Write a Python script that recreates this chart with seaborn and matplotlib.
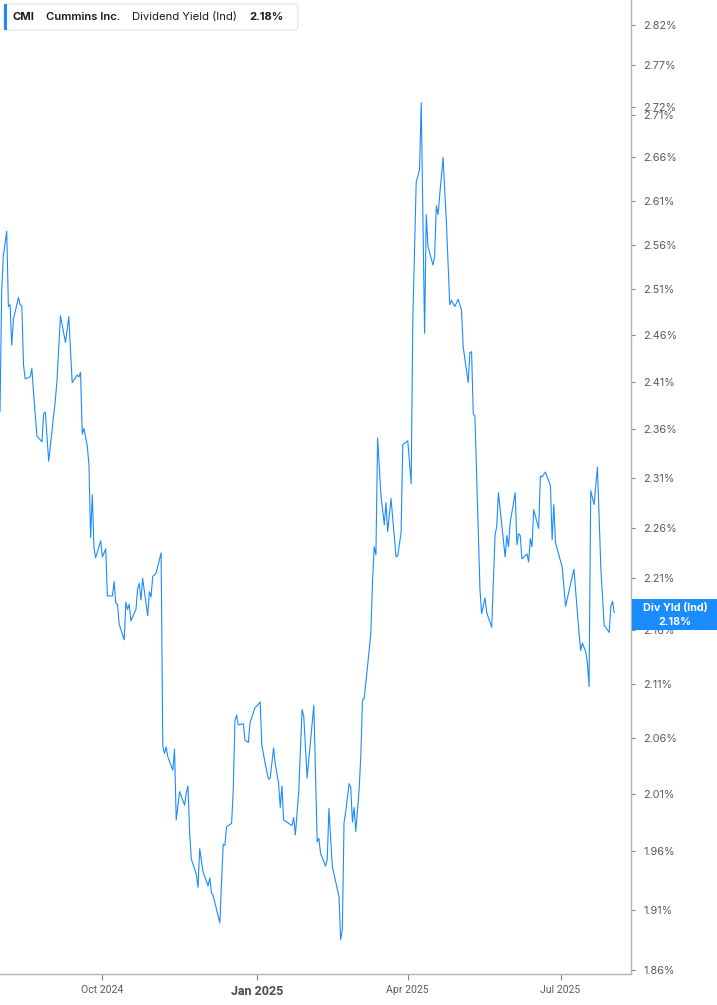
import matplotlib
matplotlib.use("Agg")
import matplotlib.pyplot as plt
import matplotlib.ticker as mticker
from matplotlib.patches import FancyBboxPatch, Rectangle
import pandas as pd
import seaborn as sns

# CMI dividend yield (indicated)
dates = [
    "2024-08-01", "2024-08-02", "2024-08-03", "2024-08-05", "2024-08-06", "2024-08-07",
    "2024-08-08", "2024-08-09", "2024-08-12", "2024-08-13", "2024-08-14", "2024-08-15",
    "2024-08-16", "2024-08-19", "2024-08-20", "2024-08-21", "2024-08-23", "2024-08-26",
    "2024-08-27", "2024-08-28", "2024-08-30",
    "2024-09-03", "2024-09-04", "2024-09-06", "2024-09-09", "2024-09-11", "2024-09-13",
    "2024-09-16", "2024-09-17", "2024-09-18", "2024-09-19", "2024-09-20", "2024-09-22",
    "2024-09-23", "2024-09-24", "2024-09-25", "2024-09-26", "2024-09-27", "2024-09-30",
    "2024-10-01", "2024-10-03", "2024-10-04", "2024-10-07", "2024-10-08", "2024-10-09",
    "2024-10-10", "2024-10-11", "2024-10-14", "2024-10-15", "2024-10-16", "2024-10-17",
    "2024-10-18", "2024-10-21", "2024-10-22", "2024-10-23", "2024-10-24", "2024-10-25",
    "2024-10-28", "2024-10-29", "2024-10-30", "2024-10-31",
    "2024-11-02", "2024-11-05", "2024-11-06", "2024-11-07", "2024-11-08", "2024-11-09",
    "2024-11-12", "2024-11-13", "2024-11-14", "2024-11-16", "2024-11-19", "2024-11-20",
    "2024-11-21", "2024-11-22", "2024-11-23", "2024-11-26", "2024-11-27", "2024-11-28",
    "2024-11-30",
    "2024-12-03", "2024-12-04", "2024-12-05", "2024-12-06", "2024-12-10", "2024-12-12",
    "2024-12-13", "2024-12-14", "2024-12-17", "2024-12-18", "2024-12-19", "2024-12-20",
    "2024-12-21", "2024-12-24", "2024-12-25", "2024-12-27", "2024-12-28", "2024-12-31",
    "2025-01-01", "2025-01-03", "2025-01-04", "2025-01-06", "2025-01-08", "2025-01-09",
    "2025-01-11", "2025-01-12", "2025-01-14", "2025-01-15", "2025-01-16", "2025-01-17",
    "2025-01-21", "2025-01-22", "2025-01-23", "2025-01-24", "2025-01-26", "2025-01-28",
    "2025-01-29", "2025-01-31",
    "2025-02-04", "2025-02-06", "2025-02-07", "2025-02-08", "2025-02-11", "2025-02-12",
    "2025-02-13", "2025-02-15", "2025-02-19", "2025-02-20", "2025-02-21", "2025-02-22",
    "2025-02-23", "2025-02-25", "2025-02-26", "2025-02-27", "2025-02-28",
    "2025-03-01", "2025-03-03", "2025-03-04", "2025-03-05", "2025-03-06", "2025-03-08",
    "2025-03-10", "2025-03-11", "2025-03-12", "2025-03-13", "2025-03-14", "2025-03-16",
    "2025-03-18", "2025-03-19", "2025-03-20", "2025-03-22", "2025-03-25", "2025-03-26",
    "2025-03-28", "2025-03-29",
    "2025-04-01", "2025-04-03", "2025-04-04", "2025-04-06", "2025-04-08", "2025-04-09",
    "2025-04-11", "2025-04-12", "2025-04-13", "2025-04-16", "2025-04-17", "2025-04-18",
    "2025-04-19", "2025-04-22", "2025-04-24", "2025-04-26", "2025-04-27", "2025-04-29",
    "2025-05-01", "2025-05-03", "2025-05-04", "2025-05-07", "2025-05-08", "2025-05-09",
    "2025-05-10", "2025-05-11", "2025-05-14", "2025-05-15", "2025-05-17", "2025-05-18",
    "2025-05-21", "2025-05-23", "2025-05-24", "2025-05-25", "2025-05-29", "2025-05-30",
    "2025-05-31",
    "2025-06-01", "2025-06-04", "2025-06-05", "2025-06-06", "2025-06-07", "2025-06-08",
    "2025-06-11", "2025-06-12", "2025-06-13", "2025-06-14", "2025-06-15", "2025-06-18",
    "2025-06-19", "2025-06-20", "2025-06-22", "2025-06-25", "2025-06-26", "2025-06-27",
    "2025-06-28", "2025-06-30",
    "2025-07-02", "2025-07-04", "2025-07-09", "2025-07-12", "2025-07-13", "2025-07-14",
    "2025-07-16", "2025-07-17", "2025-07-18", "2025-07-19", "2025-07-21", "2025-07-23",
    "2025-07-25", "2025-07-27", "2025-07-30", "2025-07-31", "2025-08-01", "2025-08-02",
]

yields = [
    2.378, 2.508, 2.547, 2.575, 2.491, 2.493,
    2.449, 2.477, 2.501, 2.493, 2.492, 2.428,
    2.413, 2.415, 2.424, 2.398, 2.353, 2.347,
    2.376, 2.378, 2.327,
    2.391, 2.412, 2.481, 2.452, 2.480, 2.409,
    2.417, 2.415, 2.420, 2.355, 2.361, 2.343,
    2.323, 2.250, 2.293, 2.240, 2.230, 2.247,
    2.231, 2.239, 2.193, 2.193, 2.207, 2.186,
    2.185, 2.166, 2.151, 2.187, 2.180, 2.185,
    2.169, 2.180, 2.200, 2.205, 2.189, 2.210,
    2.174, 2.197, 2.192, 2.212,
    2.215, 2.235, 2.053, 2.046, 2.052, 2.043,
    2.031, 2.050, 1.987, 2.012, 2.000, 2.011,
    2.017, 1.976, 1.953, 1.940, 1.929, 1.962,
    1.942,
    1.930, 1.937, 1.924, 1.922, 1.899, 1.966,
    1.965, 1.981, 1.984, 2.014, 2.076, 2.081,
    2.072, 2.073, 2.058, 2.056, 2.074, 2.088,
    2.089, 2.093, 2.054, 2.037, 2.023, 2.024,
    2.051, 2.037, 2.019, 1.998, 2.017, 1.987,
    1.983, 1.982, 1.989, 1.974, 2.012, 2.086,
    2.080, 2.024,
    2.090, 1.968, 1.971, 1.958, 1.947, 1.953,
    1.997, 1.947, 1.921, 1.885, 1.894, 1.985,
    1.994, 2.019, 2.016, 1.985, 1.998,
    1.977, 2.014, 2.044, 2.095, 2.096, 2.126,
    2.158, 2.208, 2.241, 2.233, 2.351, 2.292,
    2.263, 2.285, 2.256, 2.289, 2.231, 2.232,
    2.255, 2.344,
    2.348, 2.304, 2.477, 2.631, 2.646, 2.725,
    2.462, 2.594, 2.558, 2.537, 2.547, 2.604,
    2.594, 2.660, 2.585, 2.493, 2.498, 2.491,
    2.499, 2.487, 2.447, 2.409, 2.441, 2.442,
    2.376, 2.374, 2.199, 2.176, 2.191, 2.177,
    2.163, 2.253, 2.261, 2.295, 2.231, 2.252,
    2.241,
    2.265, 2.295, 2.243, 2.254, 2.252, 2.229,
    2.234, 2.226, 2.249, 2.241, 2.278, 2.259,
    2.312, 2.311, 2.316, 2.302, 2.248, 2.283,
    2.245, 2.233,
    2.221, 2.183, 2.219, 2.158, 2.141, 2.148,
    2.140, 2.130, 2.107, 2.297, 2.283, 2.321,
    2.221, 2.165, 2.158, 2.183, 2.188, 2.177,
]

y_ticks = [1.86, 1.91, 1.96, 2.01, 2.06, 2.11, 2.16, 2.21, 2.26, 2.31, 2.36,
           2.41, 2.46, 2.51, 2.56, 2.61, 2.66, 2.71, 2.72, 2.77, 2.82]
x_ticks = ["2024-10-01", "2025-01-01", "2025-04-01", "2025-07-01"]
x_tick_labels = ["Oct 2024", "Jan 2025", "Apr 2025", "Jul 2025"]

BLUE = "#1a8cff"
GREY_TXT = "#5a5a5a"
SPINE = "#b4b4b4"

W, H = 717, 1005

sns.set_style("white")
plt.rcParams["font.family"] = ["Inter", "DejaVu Sans"]

df = pd.DataFrame({"date": pd.to_datetime(dates), "yield": yields})

fig = plt.figure(figsize=(W / 100, H / 100), dpi=100)
fig.patch.set_facecolor("white")
ax = fig.add_axes([0, 31 / H, 631 / W, 974 / H])

sns.lineplot(data=df, x="date", y="yield", ax=ax, color=BLUE, linewidth=0.8)

ax.set_yscale("log")
ax.set_ylim(1.8567, 2.851)
ax.set_xlim(pd.Timestamp("2024-08-01"), pd.Timestamp("2025-08-12"))

ax.yaxis.set_major_locator(mticker.FixedLocator(y_ticks))
ax.yaxis.set_major_formatter(mticker.FixedFormatter([f"{v:.2f}%" for v in y_ticks]))
ax.yaxis.set_minor_locator(mticker.NullLocator())
ax.yaxis.set_minor_formatter(mticker.NullFormatter())
ax.yaxis.tick_right()
ax.tick_params(axis="y", which="major", right=True, left=False, length=3, width=0.8,
               color="#888888", labelsize=7.8, labelcolor=GREY_TXT, pad=6)

ax.set_xticks(pd.to_datetime(x_ticks))
ax.set_xticklabels(x_tick_labels)
ax.tick_params(axis="x", which="major", bottom=True, length=4, width=0.8,
               color="#888888", labelsize=7.6, labelcolor=GREY_TXT, pad=4)
ax.xaxis.set_minor_locator(mticker.NullLocator())
for lbl in ax.get_xticklabels():
    lbl.set_fontfamily(["Roboto", "DejaVu Sans"])
    lbl.set_fontstretch("condensed")
    if lbl.get_text() == "Jan 2025":
        lbl.set_fontweight("bold")
        lbl.set_fontsize(9)
        lbl.set_color("#4a4a4a")

ax.set_xlabel("")
ax.set_ylabel("")
ax.grid(False)
for side in ["top", "left"]:
    ax.spines[side].set_visible(False)
for side in ["right", "bottom"]:
    ax.spines[side].set_color(SPINE)
    ax.spines[side].set_linewidth(1.0)

# header legend box
box = FancyBboxPatch((4 / W, 1 - 30 / H), 294 / W, 26 / H,
                     boxstyle="round,pad=0,rounding_size=0.004",
                     transform=fig.transFigure, facecolor="white",
                     edgecolor="#e2e2e2", linewidth=0.8, zorder=5)
fig.add_artist(box)
fig.add_artist(Rectangle((4 / W, 1 - 30 / H), 3 / W, 26 / H, transform=fig.transFigure,
                         facecolor=BLUE, edgecolor="none", zorder=6))
hy = 1 - 17 / H
hdr = dict(fontsize=8.1, color="#1a1a1a", va="center", zorder=7)
fig.text(13 / W, hy, "CMI", fontweight="bold", **hdr)
fig.text(46 / W, hy, "Cummins Inc.", fontweight="semibold", **hdr)
fig.text(132 / W, hy, "Dividend Yield (Ind)", **hdr)
fig.text(249 / W, hy, f"{yields[-1]:.2f}%", fontweight="bold", **hdr)

# last value tag on the right axis
fig.add_artist(Rectangle((632 / W, 1 - 630 / H), 85 / W, 31 / H, transform=fig.transFigure,
                         facecolor=BLUE, edgecolor="none", zorder=8))
fig.text(675 / W, 1 - 608 / H, "Div Yld (Ind)", fontsize=7.8, fontweight="bold", color="white",
         ha="center", va="center", zorder=9)
fig.text(675 / W, 1 - 621.5 / H, f"{yields[-1]:.2f}%", fontsize=7.8, fontweight="bold", color="white",
         ha="center", va="center", zorder=9)

fig.savefig("out.png", dpi=100, facecolor="white")
